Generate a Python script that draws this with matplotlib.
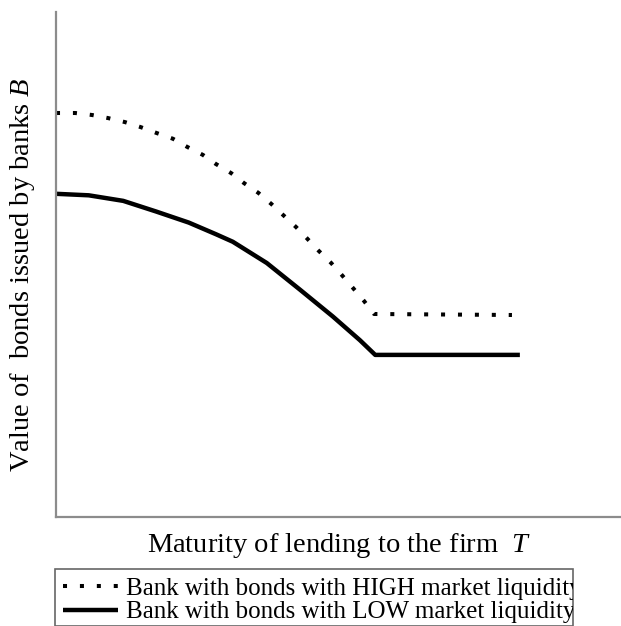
import matplotlib
matplotlib.use("Agg")
import matplotlib.pyplot as plt
from matplotlib.patches import Rectangle
from matplotlib.transforms import Bbox, TransformedBbox

plt.rcParams["font.family"] = ["Liberation Serif", "DejaVu Serif"]
plt.rcParams["mathtext.fontset"] = "custom"
plt.rcParams["mathtext.it"] = "Liberation Serif:italic"
plt.rcParams["mathtext.rm"] = "Liberation Serif"

# curves (x: maturity, y: bond value, arbitrary units 0-100)
high_x = [0, 3.4, 6.4, 9.2, 12.2, 15.0, 17.9, 20.7, 23.2, 26.0, 28.3, 31.0, 33.3,
          35.8, 38.1, 40.2, 42.5, 44.4, 46.5, 48.7, 50.6, 52.6, 54.5, 56.3, 80.7]
high_y = [80.0, 80.0, 79.6, 79.0, 78.2, 77.2, 76.0, 74.9, 73.3, 71.7, 69.9, 68.1, 66.1,
          64.2, 62.0, 59.8, 57.4, 55.2, 52.7, 50.3, 47.9, 45.3, 42.8, 40.2, 40.0]

low_x = [0, 5.8, 11.9, 17.7, 23.5, 28.3, 31.3, 37.3, 43.2, 49.0, 53.8, 56.5, 82.1]
low_y = [64.0, 63.7, 62.6, 60.5, 58.3, 56.0, 54.5, 50.3, 45.0, 39.7, 35.0, 32.1, 32.1]

labels = ["Bank with bonds with HIGH market liquidity",
          "Bank with bonds with LOW market liquidity"]

W, H = 621, 626
fig = plt.figure(figsize=(W / 100, H / 100), dpi=100)
ax = fig.add_axes([56 / W, 1 - 517 / H, 1 - 56 / W, (517 - 12) / H])

ax.plot(high_x, high_y, color="black", lw=2.9, linestyle=(0, (1, 3.2)),
        label=labels[0])
ax.plot(low_x, low_y, color="black", lw=3.2, solid_capstyle="butt",
        label=labels[1])

ax.set_xlim(0, 100)
ax.set_ylim(0, 100)
ax.set_xticks([])
ax.set_yticks([])
for side in ["top", "right"]:
    ax.spines[side].set_visible(False)
for side in ["left", "bottom"]:
    ax.spines[side].set_color("#8c8c8c")
    ax.spines[side].set_linewidth(1.6)

fig.text(339 / W, 1 - 545 / H, "Maturity of lending to the firm  $T$",
         ha="center", va="center", fontsize=20.5)
fig.text(23 / W, 1 - 275 / H, "Value of  bonds issued by banks $B$",
         ha="center", va="center", rotation=90, fontsize=20.5)

# legend box (clipped on the right like the original)
box_left, box_top, box_right = 55, 569, 573
fig.patches.append(Rectangle((box_left / W, 0), (box_right - box_left) / W,
                             1 - box_top / H, transform=fig.transFigure,
                             fill=False, edgecolor="#666666", lw=1.2))
handles, labs = ax.get_legend_handles_labels()
leg = fig.legend(handles, labs, loc="upper left",
                 bbox_to_anchor=(63 / W, 1 - 577 / H), frameon=False,
                 fontsize=18, handlelength=2.2, handletextpad=0.33,
                 labelspacing=0.05, borderpad=0, borderaxespad=0)
clip = TransformedBbox(Bbox.from_extents(0, 0, box_right / W, 1), fig.transFigure)
for t in leg.get_texts():
    t.set_clip_box(clip)
    t.set_clip_on(True)

fig.savefig("out.png", dpi=100)
